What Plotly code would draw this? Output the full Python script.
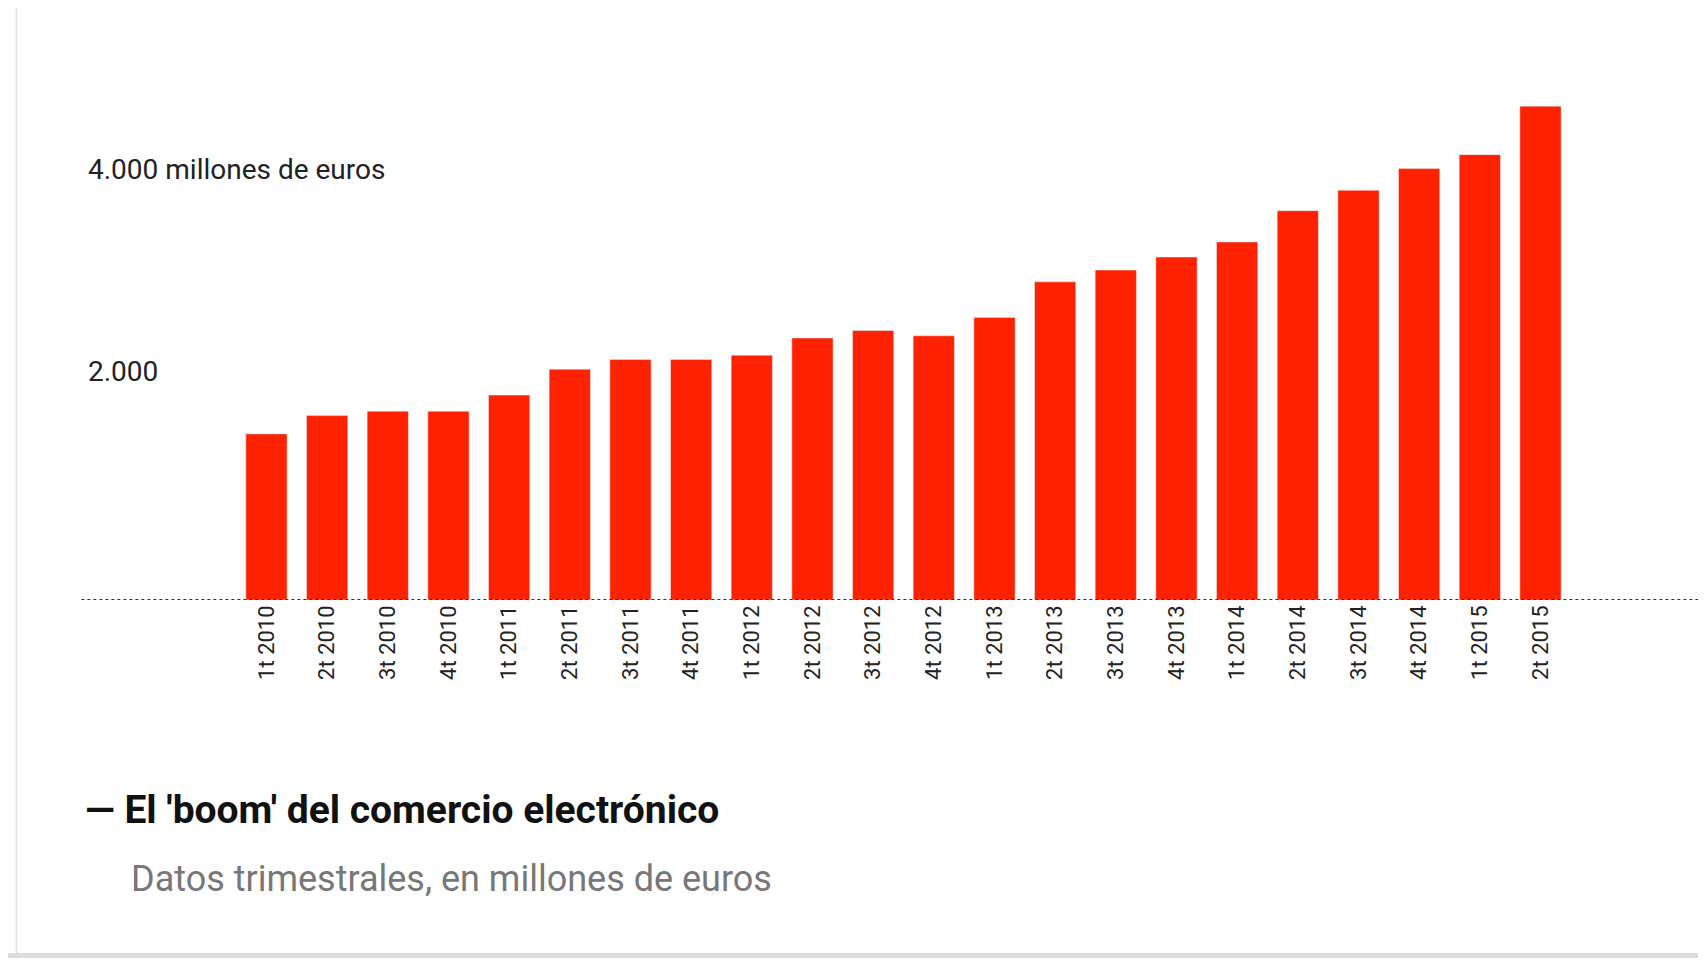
import plotly.graph_objects as go

quarters = ["1t 2010", "2t 2010", "3t 2010", "4t 2010",
            "1t 2011", "2t 2011", "3t 2011", "4t 2011",
            "1t 2012", "2t 2012", "3t 2012", "4t 2012",
            "1t 2013", "2t 2013", "3t 2013", "4t 2013",
            "1t 2014", "2t 2014", "3t 2014", "4t 2014",
            "1t 2015", "2t 2015"]
sales = [1580, 1754, 1795, 1795, 1949, 2195, 2287, 2287, 2328, 2492, 2564,
         2513, 2687, 3026, 3138, 3262, 3405, 3703, 3897, 4103, 4236, 4697]

label_values = [4000, 2000]
label_texts = ["4.000 millones de euros", "2.000"]

fig = go.Figure()
fig.add_trace(go.Bar(x=quarters, y=sales, marker_color="#ff2200", width=0.68))

# left-side value labels (no gridlines in the original)
for v, t, sh in zip(label_values, label_texts, [10, 18]):
    fig.add_annotation(x=0.046, xref="paper", y=v, yref="y", text=t,
                       showarrow=False, xanchor="left", yanchor="middle", yshift=sh,
                       font=dict(family="Roboto", size=28, color="#222"))

fig.add_annotation(x=0.044, xref="paper", y=-0.395, yref="paper",
                   text="<b>— El 'boom' del comercio electrónico</b>", showarrow=False,
                   xanchor="left", yanchor="middle",
                   font=dict(family="Roboto", size=39, color="#111"))
fig.add_annotation(x=0.071, xref="paper", y=-0.525, yref="paper",
                   text="Datos trimestrales, en millones de euros", showarrow=False,
                   xanchor="left", yanchor="middle",
                   font=dict(family="Roboto", size=36, color="#777"))

# dotted baseline
fig.add_shape(type="line", xref="paper", yref="y", x0=0.043, x1=1, y0=0, y1=0,
              line=dict(color="#333", width=2, dash="dot"))
# page borders
fig.add_shape(type="line", xref="paper", yref="paper", x0=0.005, x1=0.005,
              y0=-0.67, y1=1.2, line=dict(color="#e6e6e6", width=2))
fig.add_shape(type="line", xref="paper", yref="paper", x0=0, x1=1,
              y0=-0.668, y1=-0.668, line=dict(color="#dcdcdc", width=5))

fig.update_layout(
    width=1706, height=960,
    margin=dict(l=0, r=0, t=60, b=368),
    plot_bgcolor="white", paper_bgcolor="white",
    showlegend=False,
    xaxis=dict(range=[-4.26, 23.86], tickangle=-90, showgrid=False,
               showline=False, ticks="",
               tickfont=dict(family="Roboto", size=22, color="#222")),
    yaxis=dict(range=[0, 5060], visible=False),
)

fig.write_html("out.html")
